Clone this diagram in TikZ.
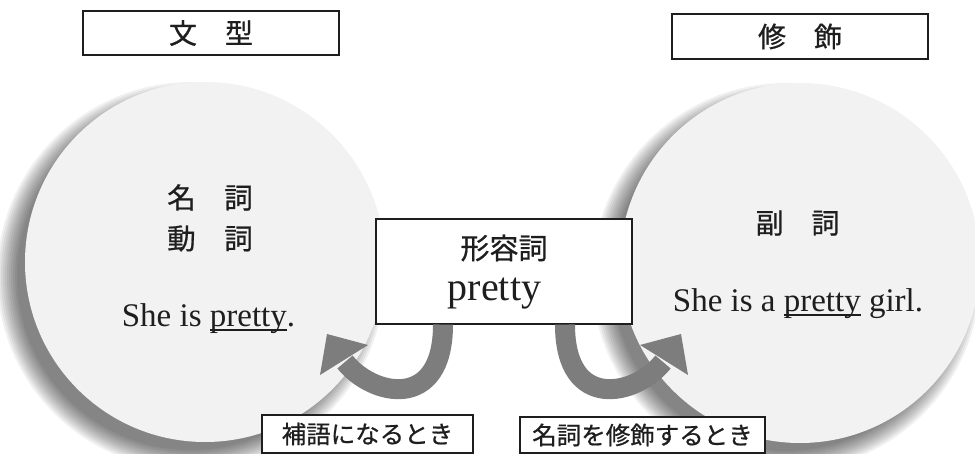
\documentclass[tikz,border=0pt]{standalone}
\usepackage{fontspec}
\setmainfont{Liberation Serif}
\newfontfamily\jp[FakeBold=0.7]{Noto Sans CJK JP}
\usetikzlibrary{calc}
\definecolor{circfill}{HTML}{F2F2F2}
\definecolor{arrowgray}{HTML}{7D7D7D}
\definecolor{ink}{HTML}{1E1E1E}
\newsavebox\ulbox
\newcommand\uln[1]{\sbox\ulbox{#1}\rlap{\rule[-0.11em]{\wd\ulbox}{0.045em}}\usebox\ulbox}
\newcommand\fsz[1]{\fontsize{#1}{#1}\selectfont}
\tikzset{
  labelbox/.style={draw=ink, line width=1.1pt, fill=white, inner sep=0pt, text=ink},
  bubble/.style={circle, fill=circfill, minimum size=360pt, inner sep=0pt},
  jtext/.style={text=ink, inner sep=0pt, font=\jp\fsz{28}},
  etext/.style={text=ink, inner sep=0pt, anchor=base, font=\fsz{33}},
  curvearrow/.style={draw=arrowgray, line width=20pt},
  arrowhead/.style={fill=arrowgray}
}
\begin{document}
\begin{tikzpicture}[x=1pt, y=-1pt]
\useasboundingbox (0,0) rectangle (975,454);
\fill[white] (0,0) rectangle (975,454);
% shadows
\foreach \cx/\cy in {205/262, 800/263}{
  \foreach \k in {0,...,10}{
    \fill[black, opacity=0.055] (\cx-14,\cy+14) circle ({174+2*\k});
  }
}
% bubbles
\node[bubble] (L) at (205,262) {};
\node[bubble] (R) at (800,263) {};
% titles
\node[labelbox, minimum width=256pt, minimum height=44pt, font=\jp\fsz{28}] (t1) at (211,33) {文　型};
\node[labelbox, minimum width=256pt, minimum height=45pt, font=\jp\fsz{28}] (t2) at (800,36.5) {修　飾};
% left bubble content
\node[jtext, font=\jp\fsz{28.5}] (n1) at (210,197.5) {名　詞};
\node[jtext, font=\jp\fsz{28.5}] (n2) at (210,238.5) {動　詞};
\node[etext] (s1) at (208.5,327) {She is \uln{pretty}.};
% right bubble content
\node[jtext] (n3) at (797.5,223) {副　詞};
\node[etext] (s2) at (798,312) {She is a \uln{pretty} girl.};
% center box
\node[labelbox, minimum width=256pt, minimum height=105pt] (c) at (504,271.5) {};
\node[jtext, font=\jp\fsz{29}] (adj) at (504,248) {形容詞};
\node[etext, font=\fsz{40}] (pw) at (494.5,301) {pretty};
% arrows
\coordinate (lb) at (345,362);
\coordinate (rb) at (663,362);
\draw[curvearrow] ([xshift=-61pt]c.south) .. controls (443,412) and (372,396) .. (lb);
\fill[arrowhead] (320,375) -- (327,334) -- (368,345) -- cycle;
\draw[curvearrow] ([xshift=61pt]c.south) .. controls (565,412) and (636,396) .. (rb);
\fill[arrowhead] (688,375) -- (681,334) -- (640,345) -- cycle;
% bottom labels
\node[labelbox, minimum width=211pt, minimum height=38pt, font=\jp\fsz{24.5}] (l1) at (367.5,434) {補語になるとき};
\node[labelbox, minimum width=245pt, minimum height=36pt, font=\jp\fsz{24.5}] (l2) at (642.5,435) {名詞を修飾するとき};
\end{tikzpicture}
\end{document}
